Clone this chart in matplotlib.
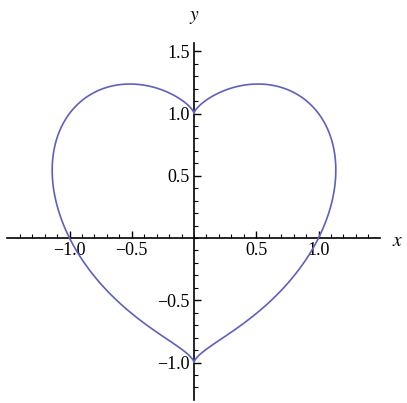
import numpy as np
import matplotlib
matplotlib.use("Agg")
from matplotlib import pyplot as plt
from matplotlib.ticker import FixedLocator

# heart curve (x^2 + y^2 - 1)^3 = x^2 y^3
x_ticks = [-1.0, -0.5, 0.5, 1.0]
x_labels = ["\u22121.0", "\u22120.5", "0.5", "1.0"]
y_ticks = [-1.0, -0.5, 0.5, 1.0, 1.5]
y_labels = ["\u22121.0", "\u22120.5", "0.5", "1.0", "1.5"]

plt.rcParams['font.family'] = ['Liberation Serif', 'DejaVu Serif']
plt.rcParams['mathtext.fontset'] = 'stix'

fig = plt.figure(figsize=(4.07, 4.03), dpi=100)
ax = fig.add_axes([0, 0, 1, 1])

W, H = 407, 403
x0, y0 = 194, 238      # origin in pixels
sc = 124.5             # pixels per unit
ax.set_xlim(-x0 / sc, (W - x0) / sc)
ax.set_ylim(-(H - y0) / sc, y0 / sc)

g = np.linspace(-1.6, 1.6, 1601)
X, Y = np.meshgrid(g, g)
F = (X**2 + Y**2 - 1)**3 - X**2 * Y**3
ax.contour(X, Y, F, levels=[0], colors='#5f5fc0', linewidths=1.2)

# axes through the origin
for s in ['top', 'right']:
    ax.spines[s].set_visible(False)
ax.spines['left'].set_position(('data', 0))
ax.spines['bottom'].set_position(('data', 0))
ax.spines['bottom'].set_bounds(-1.5, 1.49)
ax.spines['left'].set_bounds(-1.3, 1.57)
for s in ['left', 'bottom']:
    ax.spines[s].set_linewidth(1.2)
    ax.spines[s].set_zorder(1)

ax.xaxis.set_major_locator(FixedLocator(x_ticks))
ax.set_xticklabels(x_labels)
ax.yaxis.set_major_locator(FixedLocator(y_ticks))
ax.set_yticklabels(y_labels)
ax.xaxis.set_minor_locator(FixedLocator(np.round(np.arange(-1.4, 1.41, 0.1), 2)))
ax.yaxis.set_minor_locator(FixedLocator(np.round(np.arange(-1.2, 1.41, 0.1), 2)))

# ticks point up on x, right on y
ax.tick_params(which='both', direction='in', top=False, right=False,
               labelsize=13, pad=3)
ax.tick_params(which='major', length=5, width=1)
ax.tick_params(which='minor', length=3, width=0.8)

ax.text((398 - x0) / sc, -4 / sc, '$x$', fontsize=14, ha='center', va='center')
ax.text(0, (y0 - 18) / sc, '$y$', fontsize=14, ha='center', va='center')

fig.savefig('out.png', dpi=100)
